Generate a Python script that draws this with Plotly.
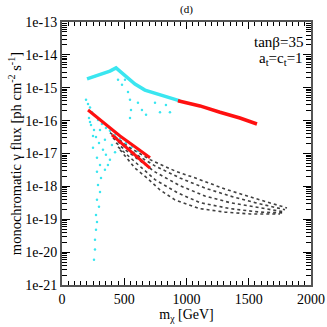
import plotly.graph_objects as go

# upper band (cyan -> red)
up_cyan_m = [201, 305, 385, 434, 506, 586, 666, 787, 947]
up_cyan_f = [1.86e-15, 2.45e-15, 3.2e-15, 4.0e-15, 2.3e-15, 1.3e-15, 8.5e-16, 6.0e-16, 4.0e-16]
up_red_m = [931, 1108, 1269, 1429, 1566]
up_red_f = [4.0e-16, 2.8e-16, 1.8e-16, 1.2e-16, 7.9e-17]

# faint cyan arcs below the upper band
arc_m = [450, 482, 506, 530, 546, 554, 546, 610, 642, 675, 747, 787, 835, 867]
arc_f = [1.74e-15, 1.23e-15, 1.74e-15, 7.4e-16, 4.3e-16, 2.1e-16, 1.2e-16, 3.5e-16,
         2.1e-16, 1.5e-16, 3.5e-16, 1.8e-16, 3.0e-16, 1.8e-16]

# lower band cyan cloud
low_cyan_m = [193, 209, 225, 241, 265, 289, 321, 353, 385, 426, 466, 514, 562, 610,
              217, 233, 257, 273, 297, 329, 353, 385, 249, 281, 305, 281, 313, 289,
              305, 281, 297, 273, 281, 273, 265, 265, 257, 345, 369,
              225, 249, 305, 345, 401, 426]
low_cyan_f = [4.3e-16, 3.2e-16, 2.5e-16, 1.8e-16, 1.4e-16, 1.05e-16, 7.9e-17, 6.0e-17,
              4.9e-17, 3.7e-17, 2.8e-17, 2.1e-17, 1.6e-17, 1.2e-17,
              1.2e-16, 7.4e-17, 5.2e-17, 3.2e-17, 2.1e-17, 1.3e-17, 9.1e-18, 6.5e-18,
              1.5e-17, 7.4e-18, 4.5e-18, 2.8e-18, 1.8e-18, 1.1e-18, 6.8e-19, 3.9e-19,
              2.4e-19, 1.35e-19, 8.3e-20, 4.8e-20, 2.4e-20, 1.2e-20, 5.9e-21, 3.2e-18, 4.5e-18,
              9.1e-17, 3.4e-17, 5.2e-17, 2.6e-17, 1.8e-17, 1.1e-17]

# lower band red strands
red_a_m = [209, 345, 466, 586, 707]
red_a_f = [2.1e-16, 7.9e-17, 3.4e-17, 1.6e-17, 7.4e-18]
red_b_m = [401, 506, 610, 707]
red_b_f = [3.7e-17, 1.7e-17, 7.9e-18, 3.6e-18]

# black hatched band
black_m = [
    [385, 546, 707, 907, 1108, 1309, 1510, 1670, 1807],
    [409, 586, 747, 947, 1148, 1349, 1550, 1791],
    [434, 610, 747, 947, 1148, 1349, 1590, 1791],
    [450, 610, 747, 931, 1108, 1349, 1590, 1791],
    [466, 586, 683, 787, 907, 1108, 1309, 1510, 1751],
]
black_f = [
    [4.3e-17, 1.5e-17, 6.5e-18, 2.95e-18, 1.6e-18, 8.3e-19, 4.8e-19, 3.2e-19, 2.2e-19],
    [2.95e-17, 9.8e-18, 4.2e-18, 1.8e-18, 8.9e-19, 5.1e-19, 3.2e-19, 1.95e-19],
    [2.1e-17, 6.5e-18, 2.75e-18, 1.05e-18, 5.1e-19, 3.2e-19, 2.2e-19, 1.65e-19],
    [1.6e-17, 4.5e-18, 1.6e-18, 6.3e-19, 3.2e-19, 2.1e-19, 1.65e-19, 1.55e-19],
    [1.3e-17, 3.6e-18, 1.8e-18, 7.8e-19, 3.9e-19, 2.1e-19, 1.65e-19, 1.45e-19, 1.45e-19],
]

y_tickvals = [1e-21, 1e-20, 1e-19, 1e-18, 1e-17, 1e-16, 1e-15, 1e-14, 1e-13]
y_ticktext = ["1e-21", "1e-20", "1e-19", "1e-18", "1e-17", "1e-16", "1e-15", "1e-14", "1e-13"]

CYAN = "#3ae6f0"
RED = "#ff1010"
FONT = "Liberation Serif, Times New Roman, serif"

fig = go.Figure()

for xs, ys in zip(black_m, black_f):
    fig.add_trace(go.Scatter(x=xs, y=ys, mode="lines",
                             line=dict(color="rgba(0,0,0,0.75)", width=1.6, dash="dot")))

fig.add_trace(go.Scatter(x=low_cyan_m, y=low_cyan_f, mode="markers",
                         marker=dict(color=CYAN, size=2.5)))
fig.add_trace(go.Scatter(x=arc_m, y=arc_f, mode="markers",
                         marker=dict(color=CYAN, size=2.5)))
fig.add_trace(go.Scatter(x=up_cyan_m, y=up_cyan_f, mode="lines",
                         line=dict(color=CYAN, width=3.5)))
fig.add_trace(go.Scatter(x=up_red_m, y=up_red_f, mode="lines",
                         line=dict(color=RED, width=3.5)))
fig.add_trace(go.Scatter(x=red_a_m, y=red_a_f, mode="lines",
                         line=dict(color=RED, width=3)))
fig.add_trace(go.Scatter(x=red_b_m, y=red_b_f, mode="lines",
                         line=dict(color=RED, width=3)))

fig.update_layout(
    width=327, height=327,
    margin=dict(l=62, r=16, t=22, b=42, autoexpand=False),
    paper_bgcolor="white",
    plot_bgcolor="white",
    showlegend=False,
    font=dict(family=FONT, size=14, color="black"),
    xaxis=dict(
        range=[0, 2000], dtick=500, showgrid=False, zeroline=False, automargin=False,
        ticks="inside", ticklen=7, tickcolor="black", mirror="allticks",
        showline=True, linecolor="#555", linewidth=2,
        minor=dict(ticks="inside", dtick=50, ticklen=4, tickcolor="black"),
        title=dict(text="m<sub>χ</sub> [GeV]", standoff=0, font=dict(size=14)),
    ),
    yaxis=dict(
        type="log", range=[-21, -13], showgrid=False, zeroline=False, automargin=False,
        tickvals=y_tickvals, ticktext=y_ticktext,
        ticks="inside", ticklen=8, tickcolor="black", mirror="allticks",
        showline=True, linecolor="#555", linewidth=2,
        minor=dict(ticks="inside", dtick="D1", ticklen=5, tickcolor="black"),
        title=dict(text="monochromatic γ flux [ph cm<sup>-2</sup> s<sup>-1</sup>]",
                   standoff=0, font=dict(size=14.5)),
    ),
    annotations=[
        dict(text="(d)", xref="paper", yref="paper", x=0.5, y=1, yanchor="bottom",
             yshift=4, showarrow=False, font=dict(size=11)),
        dict(text="tanβ=35", xref="paper", yref="paper", x=0.975, y=0.924,
             xanchor="right", yanchor="middle", showarrow=False, font=dict(size=15)),
        dict(text="a<sub>t</sub>=c<sub>t</sub>=1", xref="paper", yref="paper",
             x=0.975, y=0.86, xanchor="right", yanchor="middle", showarrow=False,
             font=dict(size=15)),
    ],
)

# drop the default 8px body margin so the 327px figure fills the window exactly
fig.write_html("out.html", config={"displayModeBar": False},
               post_script="document.body.style.margin = '0';")
